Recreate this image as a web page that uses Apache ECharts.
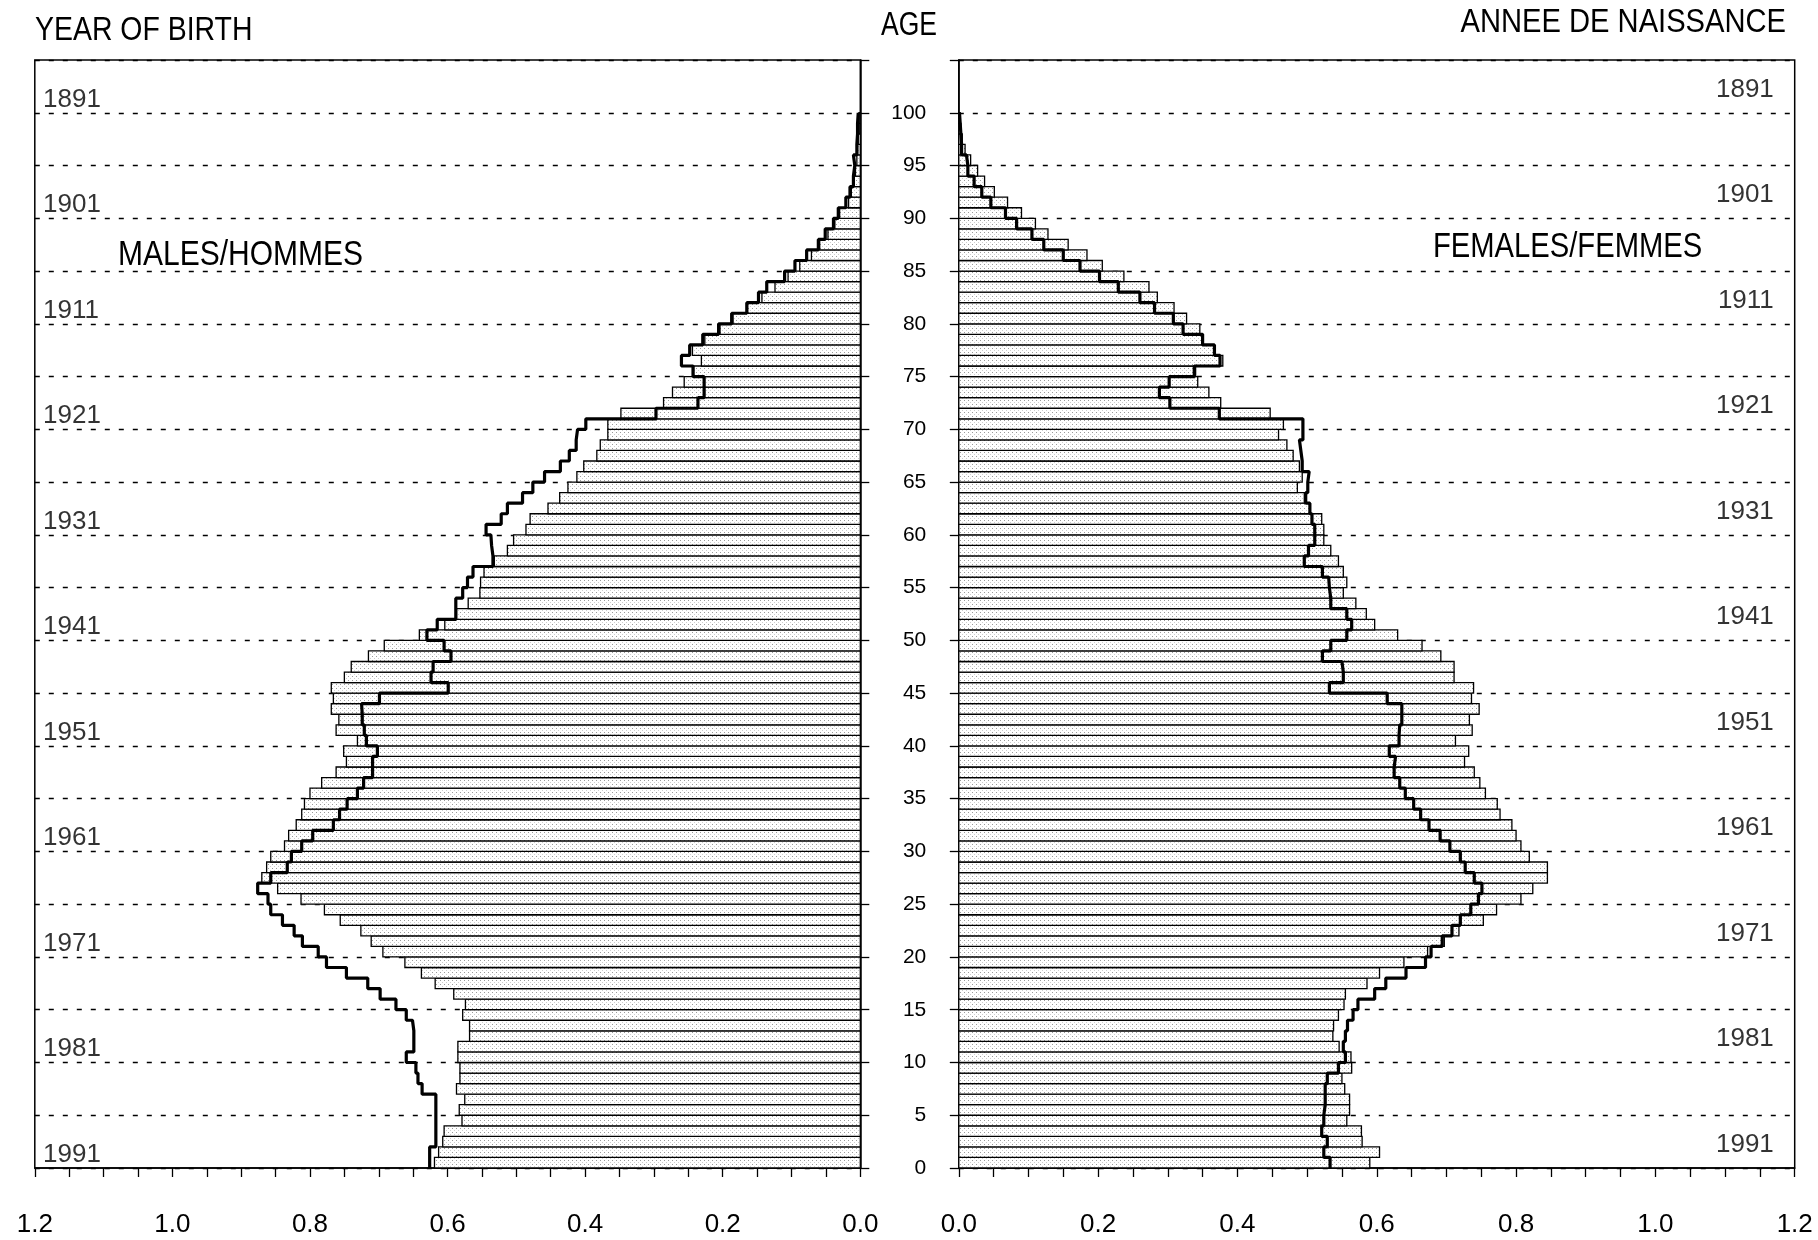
<!DOCTYPE html>
<html><head><meta charset="utf-8">
<script src="https://cdn.jsdelivr.net/npm/echarts@6/dist/echarts.min.js"></script>
<style>html,body{margin:0;padding:0;background:#fff}#c{width:1818px;height:1240px}</style>
</head><body><div id="c"></div>
<script>
// ---------------- DATA ----------------
// age (single years 0..99), values in percent of population
const ages = Array.from({length: 100}, (_, i) => i);

const maleBars = [
 0.619,0.613,0.607,0.605,0.579,0.583,0.575,0.587,0.582,0.582,
 0.585,0.585,0.568,0.568,0.578,0.574,0.591,0.618,0.638,0.662,
 0.694,0.711,0.726,0.756,0.779,0.813,0.847,0.870,0.863,0.857,
 0.837,0.831,0.820,0.812,0.808,0.800,0.783,0.762,0.747,0.751,
 0.731,0.762,0.758,0.769,0.766,0.769,0.750,0.740,0.715,0.692,
 0.641,0.604,0.587,0.570,0.553,0.552,0.547,0.532,0.513,0.504,
 0.486,0.480,0.454,0.437,0.425,0.412,0.402,0.383,0.378,0.367,
 0.367,0.348,0.286,0.273,0.256,0.244,0.231,0.244,0.226,0.204,
 0.185,0.164,0.143,0.124,0.105,0.088,0.071,0.059,0.047,0.037,
 0.030,0.017,0.013,0.009,0.007,0.005,0.004,0.003,0.002,0.002];

const maleLine = [
 0.626,0.626,0.617,0.617,0.617,0.617,0.617,0.637,0.643,0.646,
 0.660,0.649,0.649,0.651,0.660,0.675,0.698,0.716,0.747,0.776,
 0.788,0.811,0.823,0.840,0.857,0.861,0.876,0.857,0.833,0.827,
 0.812,0.796,0.766,0.757,0.746,0.731,0.722,0.709,0.709,0.702,
 0.718,0.721,0.724,0.725,0.699,0.599,0.624,0.621,0.595,0.605,
 0.630,0.615,0.588,0.588,0.578,0.571,0.563,0.534,0.536,0.537,
 0.544,0.522,0.513,0.491,0.476,0.459,0.436,0.423,0.413,0.411,
 0.399,0.297,0.236,0.227,0.227,0.243,0.260,0.248,0.229,0.206,
 0.187,0.165,0.148,0.136,0.110,0.095,0.078,0.061,0.051,0.039,
 0.032,0.021,0.015,0.010,0.008,0.010,0.005,0.004,0.004,0.003];

const femaleBars = [
 0.590,0.604,0.579,0.578,0.557,0.561,0.561,0.554,0.550,0.564,
 0.563,0.546,0.537,0.538,0.545,0.553,0.555,0.586,0.604,0.639,
 0.673,0.697,0.718,0.753,0.772,0.807,0.824,0.845,0.845,0.819,
 0.807,0.800,0.794,0.777,0.773,0.756,0.748,0.740,0.726,0.732,
 0.713,0.737,0.733,0.747,0.736,0.739,0.711,0.711,0.692,0.665,
 0.630,0.597,0.585,0.570,0.552,0.557,0.552,0.545,0.534,0.524,
 0.524,0.521,0.504,0.496,0.486,0.493,0.489,0.480,0.471,0.459,
 0.466,0.447,0.376,0.359,0.343,0.340,0.379,0.367,0.351,0.346,
 0.327,0.309,0.285,0.273,0.237,0.206,0.184,0.157,0.128,0.110,
 0.090,0.070,0.051,0.037,0.027,0.017,0.009,0.005,0.003,0.002];

const femaleLine = [
 0.533,0.524,0.529,0.521,0.524,0.526,0.526,0.526,0.529,0.545,
 0.555,0.552,0.555,0.558,0.566,0.573,0.597,0.613,0.642,0.670,
 0.678,0.694,0.708,0.720,0.735,0.746,0.751,0.740,0.727,0.720,
 0.705,0.691,0.675,0.663,0.653,0.641,0.633,0.625,0.627,0.618,
 0.632,0.633,0.636,0.636,0.615,0.532,0.552,0.550,0.522,0.534,
 0.557,0.564,0.557,0.534,0.532,0.531,0.522,0.496,0.502,0.511,
 0.511,0.507,0.504,0.498,0.501,0.503,0.493,0.491,0.489,0.494,
 0.494,0.374,0.303,0.288,0.302,0.338,0.375,0.367,0.350,0.322,
 0.308,0.281,0.260,0.229,0.202,0.174,0.150,0.122,0.105,0.083,
 0.067,0.046,0.033,0.022,0.013,0.011,0.004,0.003,0.002,0.001];

const yearLabels = ['1891','1901','1911','1921','1931','1941','1951','1961','1971','1981','1991'];
const yearAges   = [100, 90, 80, 70, 60, 50, 40, 30, 20, 10, 0];

// ---------------- CHART ----------------
const SANS = '"Liberation Sans",Arial,Helvetica,sans-serif';

function makePattern() {
  const c = document.createElement('canvas'); c.width = 4; c.height = 4;
  const g = c.getContext('2d');
  g.fillStyle = '#ffffff'; g.fillRect(0, 0, 4, 4);
  g.fillStyle = '#9a9a9a'; g.fillRect(0, 0, 1, 1);
  g.fillStyle = '#cfcfcf'; g.fillRect(2, 2, 1, 1);
  return c;
}
const pattern = {image: makePattern(), repeat: 'repeat'};

function barRender(params, api) {
  const v = api.value(0), a = api.value(1);
  const p0 = api.coord([0, a]);
  const p1 = api.coord([v, a + 1]);
  return {
    type: 'rect',
    shape: {x: Math.min(p0[0], p1[0]), y: Math.min(p0[1], p1[1]),
            width: Math.abs(p1[0] - p0[0]), height: Math.abs(p1[1] - p0[1])},
    style: {fill: pattern, stroke: '#000', lineWidth: 1.3}
  };
}
function stepPoints(vals) {
  const pts = [];
  vals.forEach((v, i) => { pts.push([v, ages[i]]); pts.push([v, ages[i] + 1]); });
  return pts;
}
const xLabelFmt = v => (Math.round(v * 100) % 20 === 0) ? v.toFixed(1) : '';

function xAxis(idx, inverse) {
  return {
    type: 'value', gridIndex: idx, min: 0, max: 1.2, interval: 0.05, inverse: inverse,
    axisLine: {show: true, lineStyle: {color: '#000', width: 1.5}},
    axisTick: {show: true, length: 9, lineStyle: {color: '#000', width: 1.3}},
    axisLabel: {formatter: xLabelFmt, margin: 44, color: '#000', fontFamily: SANS, fontSize: 26},
    splitLine: {show: false}
  };
}
function yAxis(idx, pos, showLabels) {
  return {
    type: 'value', gridIndex: idx, min: 0, max: 105, interval: 5, position: pos,
    axisLine: {show: true, lineStyle: {color: '#000', width: 1.5}},
    axisTick: {show: true, length: 9, lineStyle: {color: '#000', width: 1.3}},
    axisLabel: {show: showLabels, align: 'right', margin: 66, color: '#000', fontFamily: SANS, fontSize: 21,
                formatter: v => (v <= 100 ? String(v) : '')},
    splitLine: {show: true, lineStyle: {color: '#000', type: [5, 9], width: 1.4}}
  };
}
function header(text, x, y, align, size, sx) {
  return {type: 'text', x: x, y: y, scaleX: sx, scaleY: 1,
          style: {text: text, font: size + 'px ' + SANS, fill: '#000',
                  align: align, verticalAlign: 'middle',
                  textAlign: align, textVerticalAlign: 'middle'}};
}

const chart = echarts.init(document.getElementById('c'), null, {renderer: 'canvas'});
chart.setOption({
  animation: false,
  backgroundColor: '#fff',
  grid: [
    {left: 34.8, top: 60, width: 825.5, height: 1108, show: true, borderColor: '#000', borderWidth: 1.5},
    {left: 958.8, top: 60, width: 835.9, height: 1108, show: true, borderColor: '#000', borderWidth: 1.5}
  ],
  xAxis: [xAxis(0, true), xAxis(1, false)],
  yAxis: [yAxis(0, 'right', true), yAxis(1, 'left', false)],
  graphic: [
    header('YEAR OF BIRTH', 35, 31, 'left', 34, 0.836),
    header('AGE', 909, 26, 'center', 34, 0.78),
    header('ANNEE DE NAISSANCE', 1786, 23, 'right', 34, 0.857),
    header('MALES/HOMMES', 118, 255, 'left', 35, 0.857),
    header('FEMALES/FEMMES', 1433, 247, 'left', 35, 0.834)
  ],
  series: [
    {type: 'custom', xAxisIndex: 0, yAxisIndex: 0, renderItem: barRender, z: 2,
     data: ages.map((a, i) => [maleBars[i], a])},
    {type: 'custom', xAxisIndex: 1, yAxisIndex: 1, renderItem: barRender, z: 2,
     data: ages.map((a, i) => [femaleBars[i], a])},
    {type: 'line', xAxisIndex: 0, yAxisIndex: 0, symbol: 'none', z: 4,
     lineStyle: {color: '#000', width: 3.2}, data: stepPoints(maleLine)},
    {type: 'line', xAxisIndex: 1, yAxisIndex: 1, symbol: 'none', z: 4,
     lineStyle: {color: '#000', width: 3.2}, data: stepPoints(femaleLine)},
    {type: 'scatter', xAxisIndex: 0, yAxisIndex: 0, symbolSize: 0, z: 5,
     data: yearLabels.map((t, i) => [1.188, yearAges[i] + 1.25, t]),
     label: {show: true, position: 'right', distance: 0, formatter: p => p.value[2],
             color: '#000', fontFamily: SANS, fontSize: 26}},
    {type: 'scatter', xAxisIndex: 1, yAxisIndex: 1, symbolSize: 0, z: 5,
     data: yearLabels.map((t, i) => [1.170, yearAges[i] + 2.2, t]),
     label: {show: true, position: 'left', distance: 0, formatter: p => p.value[2],
             color: '#000', fontFamily: SANS, fontSize: 26}}
  ]
});
</script>
</body></html>
